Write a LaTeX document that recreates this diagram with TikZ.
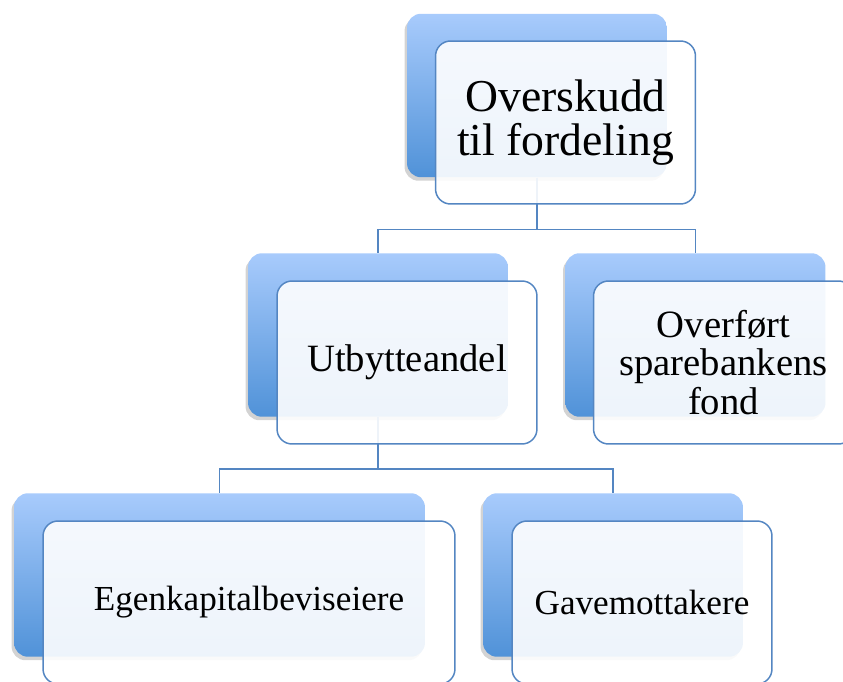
\documentclass[tikz,border=0pt]{standalone}
\usepackage{fontspec}
\setmainfont{Liberation Serif}
\usetikzlibrary{shadows}
\definecolor{cbt}{RGB}{168,203,252}
\definecolor{cbb}{RGB}{80,146,216}
\definecolor{cln}{RGB}{84,134,194}
\tikzset{
    bk/.style={rounded corners=.28cm, inner sep=0, minimum height=3.27cm, minimum width=5.2cm,
        top color=cbt, bottom color=cbb,
        drop shadow={shadow xshift=-.05cm, shadow yshift=-.07cm, opacity=.35}},
    fr/.style={draw=cln, line width=.85pt, rounded corners=.3cm, fill=white, fill opacity=.9,
        text opacity=1, inner sep=0, minimum height=3.26cm, minimum width=5.2cm, align=center},
    ln/.style={draw=cln, line width=.85pt}
}
\begin{document}
\begin{tikzpicture}[x=.02cm, y=-.02cm]
    \useasboundingbox(0, 0) rectangle (843, 682);
    \node[bk](ovb) at (537, 95.5){};
    \node[bk](utb) at (378, 335){};
    \node[bk](fob) at (695.5, 335){};
    \node[bk, minimum width=8.22cm](egb) at (219.5, 575){};
    \node[bk](gab) at (613, 575){};
    \draw[ln](ovb.south)--++(0, 52)-|(utb.north);
    \draw[ln](ovb.south)--++(0, 52)-|(fob.north);
    \draw[ln](utb.south)--++(0, 52)-|(egb.north);
    \draw[ln](utb.south)--++(0, 52)-|(gab.north);
    \node[fr, font=\fontsize{26}{25}\selectfont](ov) at (565.5, 122.5){Overskudd\\til fordeling};
    \node[fr, font=\fontsize{22}{22}\selectfont](ut) at (407, 362.5){Utbytteandel};
    \node[fr, font=\fontsize{22}{22}\selectfont](fo) at (723.5, 362.5){Overført\\sparebankens\\fond};
    \node[fr, minimum width=8.24cm, font=\fontsize{20}{20}\selectfont](eg) at (249, 602.5){Egenkapitalbeviseiere};
    \node[fr, font=\fontsize{20}{20}\selectfont](ga) at (642, 602.5){Gavemottakere};
\end{tikzpicture}
\end{document}
